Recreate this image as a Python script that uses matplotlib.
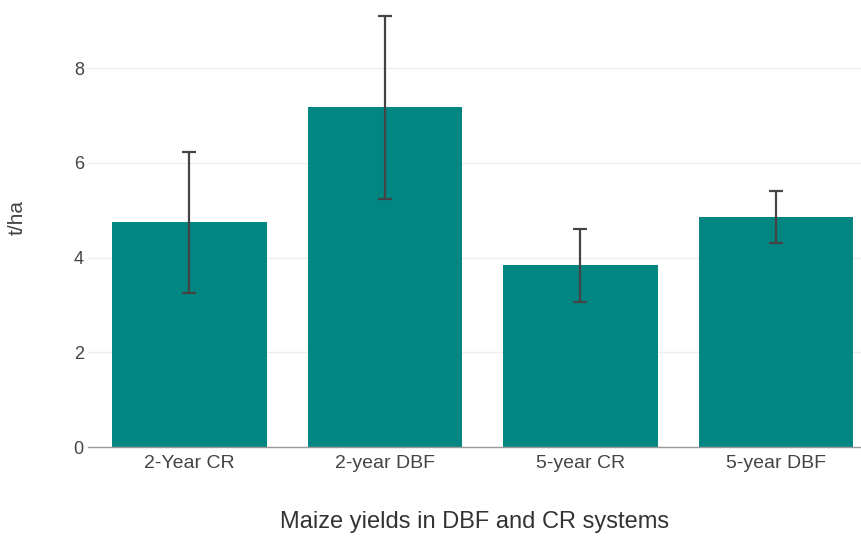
import matplotlib
matplotlib.use("Agg")
import matplotlib.pyplot as plt

plt.rcParams["font.family"] = ["Liberation Sans", "DejaVu Sans"]

categories = ["2-Year CR", "2-year DBF", "5-year CR", "5-year DBF"]
yields = [4.74, 7.17, 3.84, 4.86]
errors = [1.48, 1.93, 0.77, 0.55]
y_ticks = [0, 2, 4, 6, 8]

fig = plt.figure(figsize=(8.61, 5.37), dpi=100)
ax = fig.add_axes([88 / 861, 90 / 537, 1 - 88 / 861, (447 - 5) / 537])

x = range(len(categories))
ax.bar(x, yields, width=0.79, color="#028682", zorder=2)
ax.errorbar(x, yields, yerr=errors, fmt="none", ecolor="#444444",
            elinewidth=1.6, capsize=5, capthick=1.6, zorder=3)

ax.set_xlim(-0.519, 3.435)
ax.set_ylim(0, 9.33)
ax.set_xticks(list(x))
ax.set_xticklabels(categories)
ax.set_yticks(y_ticks)
ax.yaxis.grid(True, color="#eeeeee", linewidth=1.0, zorder=0)
ax.set_axisbelow(True)

for side in ["top", "right", "left"]:
    ax.spines[side].set_visible(False)
ax.spines["bottom"].set_color("#999999")
ax.spines["bottom"].set_linewidth(1.0)

ax.tick_params(axis="x", length=0, pad=6, labelsize=14, labelcolor="#444444")
ax.tick_params(axis="y", length=0, pad=3, labelsize=13, labelcolor="#444444")

ax.set_ylabel("t/ha", fontsize=15, color="#444444")
ax.yaxis.set_label_coords(-0.08, 0.52)
ax.set_xlabel("Maize yields in DBF and CR systems", fontsize=17,
              color="#333333", labelpad=28)

fig.savefig("out.png", dpi=100)
